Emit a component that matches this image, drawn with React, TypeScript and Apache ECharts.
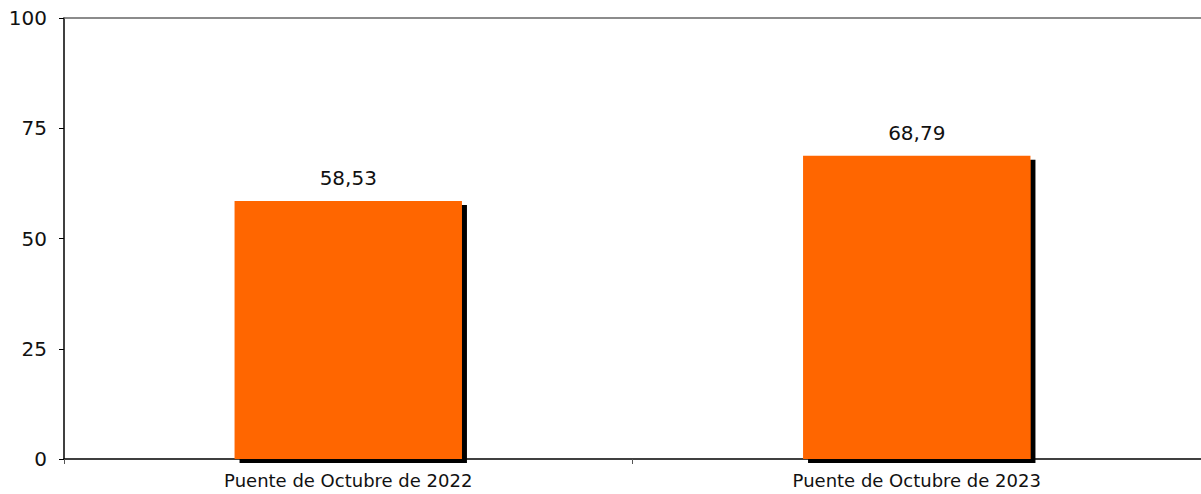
import React, { useEffect, useRef } from "react";
import * as echarts from "echarts";

const categories = ["Puente de Octubre de 2022", "Puente de Octubre de 2023"];
const values = [58.53, 68.79];
const yTicks = [0, 25, 50, 75, 100];

export default function App() {
  const ref = useRef<HTMLDivElement>(null);
  useEffect(() => {
    const chart = echarts.init(ref.current!, null, { renderer: "svg" });
    const font = "DejaVu Sans";
    chart.setOption({
      animation: false,
      textStyle: { fontFamily: font },
      grid: { left: 64, right: 0, top: 18, bottom: 35 },
      xAxis: [
        {
          type: "category",
          data: categories,
          axisLine: { lineStyle: { color: "#000", width: 1.5 } },
          axisTick: { show: true, length: 5, lineStyle: { color: "#555" } },
          axisLabel: { color: "#111", fontSize: 18, margin: 12, fontFamily: font },
        },
        {
          type: "category",
          position: "top",
          data: categories,
          axisLine: { show: true, lineStyle: { color: "#666", width: 1.5 } },
          axisTick: { show: false },
          axisLabel: { show: false },
        },
      ],
      yAxis: {
        type: "value",
        min: yTicks[0],
        max: yTicks[yTicks.length - 1],
        interval: 25,
        axisLine: { show: true, lineStyle: { color: "#000", width: 1.5 } },
        axisTick: { show: true, length: 5, lineStyle: { color: "#000" } },
        splitLine: { show: false },
        axisLabel: { color: "#111", fontSize: 20, margin: 17, fontFamily: font },
      },
      series: [
        {
          type: "bar",
          data: values,
          barWidth: "40%",
          itemStyle: {
            color: "#FF6600",
            shadowColor: "#000",
            shadowOffsetX: 5,
            shadowOffsetY: 4,
            shadowBlur: 0,
          },
          label: {
            show: true,
            position: "top",
            distance: 13,
            color: "#111",
            fontSize: 20,
            fontFamily: font,
            formatter: (p: any) => p.value.toFixed(2).replace(".", ","),
          },
        },
      ],
    });
    return () => chart.dispose();
  }, []);
  return (
    <div
      ref={ref}
      style={{ position: "fixed", left: 0, top: 0, width: 1201, height: 494, background: "#fff" }}
    />
  );
}
